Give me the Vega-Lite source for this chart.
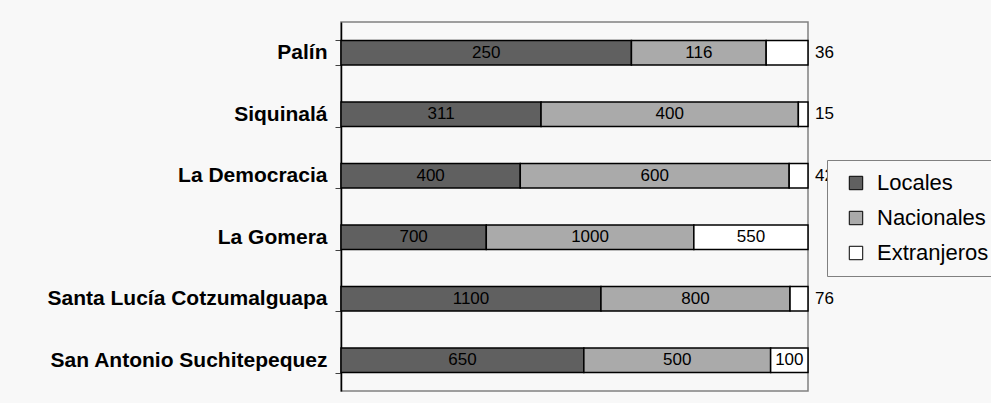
{
  "$schema": "https://vega.github.io/schema/vega-lite/v6.json",
  "width": 467,
  "height": 369,
  "autosize": {"type": "none"},
  "padding": {"left": 341, "top": 22, "right": 183, "bottom": 12},
  "background": "#f8f8f8",
  "config": {
    "font": "Liberation Sans",
    "view": {"stroke": "#808080", "strokeWidth": 1.5}
  },
  "data": {
    "values": [
      {"municipio": "Palín", "tipo": "Locales", "valor": 250},
      {"municipio": "Palín", "tipo": "Nacionales", "valor": 116},
      {"municipio": "Palín", "tipo": "Extranjeros", "valor": 36},
      {"municipio": "Siquinalá", "tipo": "Locales", "valor": 311},
      {"municipio": "Siquinalá", "tipo": "Nacionales", "valor": 400},
      {"municipio": "Siquinalá", "tipo": "Extranjeros", "valor": 15},
      {"municipio": "La Democracia", "tipo": "Locales", "valor": 400},
      {"municipio": "La Democracia", "tipo": "Nacionales", "valor": 600},
      {"municipio": "La Democracia", "tipo": "Extranjeros", "valor": 42},
      {"municipio": "La Gomera", "tipo": "Locales", "valor": 700},
      {"municipio": "La Gomera", "tipo": "Nacionales", "valor": 1000},
      {"municipio": "La Gomera", "tipo": "Extranjeros", "valor": 550},
      {"municipio": "Santa Lucía Cotzumalguapa", "tipo": "Locales", "valor": 1100},
      {"municipio": "Santa Lucía Cotzumalguapa", "tipo": "Nacionales", "valor": 800},
      {"municipio": "Santa Lucía Cotzumalguapa", "tipo": "Extranjeros", "valor": 76},
      {"municipio": "San Antonio Suchitepequez", "tipo": "Locales", "valor": 650},
      {"municipio": "San Antonio Suchitepequez", "tipo": "Nacionales", "valor": 500},
      {"municipio": "San Antonio Suchitepequez", "tipo": "Extranjeros", "valor": 100}
    ]
  },
  "transform": [
    {"calculate": "indexof(['Locales','Nacionales','Extranjeros'], datum.tipo)", "as": "orden"},
    {"stack": "valor", "groupby": ["municipio"], "sort": [{"field": "orden", "order": "ascending"}], "offset": "normalize", "as": ["v0", "v1"]},
    {"calculate": "(datum.v0 + datum.v1) / 2", "as": "mid"},
    {"calculate": "datum.tipo === 'Extranjeros' && datum.valor < 80", "as": "fuera"}
  ],
  "encoding": {
    "y": {
      "field": "municipio",
      "type": "nominal",
      "sort": ["Palín", "Siquinalá", "La Democracia", "La Gomera", "Santa Lucía Cotzumalguapa", "San Antonio Suchitepequez"],
      "scale": {"paddingInner": 0.6, "paddingOuter": 0.3},
      "axis": {
        "title": null,
        "tickBand": "extent",
        "tickSize": 6,
        "tickColor": "#404040",
        "tickWidth": 1,
        "domainColor": "#000000",
        "domainWidth": 1.5,
        "labelFont": "Liberation Sans",
        "labelFontWeight": "bold",
        "labelFontSize": 21,
        "labelColor": "#000000",
        "labelPadding": 8,
        "labelLimit": 0
      }
    }
  },
  "layer": [
    {
      "mark": {"type": "bar", "stroke": "#000000", "strokeWidth": 1.5},
      "encoding": {
        "x": {"field": "v0", "type": "quantitative", "scale": {"domain": [0, 1], "nice": false}, "axis": null},
        "x2": {"field": "v1"},
        "color": {
          "field": "tipo",
          "type": "nominal",
          "scale": {"domain": ["Locales", "Nacionales", "Extranjeros"], "range": ["#606060", "#aaaaaa", "#ffffff"]},
          "legend": {
            "title": null,
            "orient": "none",
            "legendX": 486,
            "legendY": 138,
            "symbolType": "square",
            "symbolSize": 180,
            "symbolStrokeColor": "#000000",
            "symbolStrokeWidth": 1,
            "symbolOffset": 6,
            "labelFont": "Liberation Sans",
            "labelFontSize": 22,
            "labelColor": "#000000",
            "labelOffset": 10,
            "rowPadding": 13,
            "padding": 12,
            "strokeColor": "#808080",
            "fillColor": "#f8f8f8"
          }
        }
      }
    },
    {
      "transform": [{"filter": "!datum.fuera"}],
      "mark": {"type": "text", "fontSize": 17, "color": "#000000", "align": "center", "baseline": "middle"},
      "encoding": {
        "x": {"field": "mid", "type": "quantitative"},
        "text": {"field": "valor", "type": "quantitative"}
      }
    },
    {
      "transform": [{"filter": "datum.fuera"}],
      "mark": {"type": "text", "fontSize": 17, "color": "#000000", "align": "left", "baseline": "middle", "dx": 7},
      "encoding": {
        "x": {"field": "v1", "type": "quantitative"},
        "text": {"field": "valor", "type": "quantitative"}
      }
    }
  ]
}
